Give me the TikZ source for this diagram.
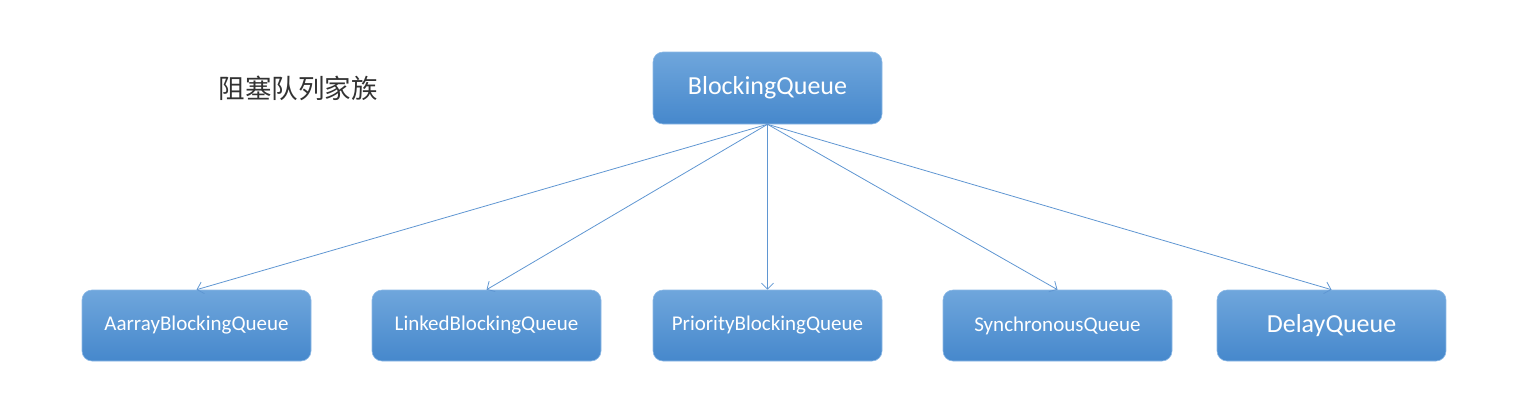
\documentclass[tikz,border=0pt]{standalone}
\usepackage{fontspec}
\setmainfont{Carlito}
\newfontfamily\cjk{Noto Sans CJK SC}
\usetikzlibrary{arrows.meta}
\definecolor{boxtop}{RGB}{111,166,220}
\definecolor{boxbot}{RGB}{70,136,204}
\definecolor{boxedge}{RGB}{140,185,230}
\definecolor{linecol}{RGB}{95,150,210}
\definecolor{titlecol}{RGB}{50,50,50}
\tikzset{
  qbox/.style={rounded corners=10pt, minimum width=229pt, minimum height=71pt,
    top color=boxtop, bottom color=boxbot, draw=boxedge, line width=0.6pt,
    text=white, inner sep=0pt},
  big/.style={font=\fontsize{26}{30}\selectfont},
  small/.style={font=\fontsize{21}{24}\selectfont},
  conn/.style={draw=linecol, line width=0.8pt, -{Straight Barb[length=6pt,width=12pt]}}
}
\begin{document}
\begin{tikzpicture}[x=1pt,y=-1pt]
\useasboundingbox (0,0) rectangle (1513,418);
\node[qbox,big,minimum height=72pt] (root) at (767.5,88) {BlockingQueue};
\node[font=\cjk\fontsize{26.5}{30}\selectfont, text=titlecol] (title) at (298,88) {阻塞队列家族};
\node[qbox,small] (a) at (196.5,325.5) {AarrayBlockingQueue};
\node[qbox,small] (b) at (486.5,325.5) {LinkedBlockingQueue};
\node[qbox,small] (c) at (767.5,325.5) {PriorityBlockingQueue};
\node[qbox,small] (d) at (1057.5,325.5) {SynchronousQueue};
\node[qbox,big] (e) at (1331.5,325.5) {DelayQueue};
\foreach \n in {a,b,c,d,e}{
  \draw[conn] (root.south) -- (\n.north);
}
\end{tikzpicture}
\end{document}
